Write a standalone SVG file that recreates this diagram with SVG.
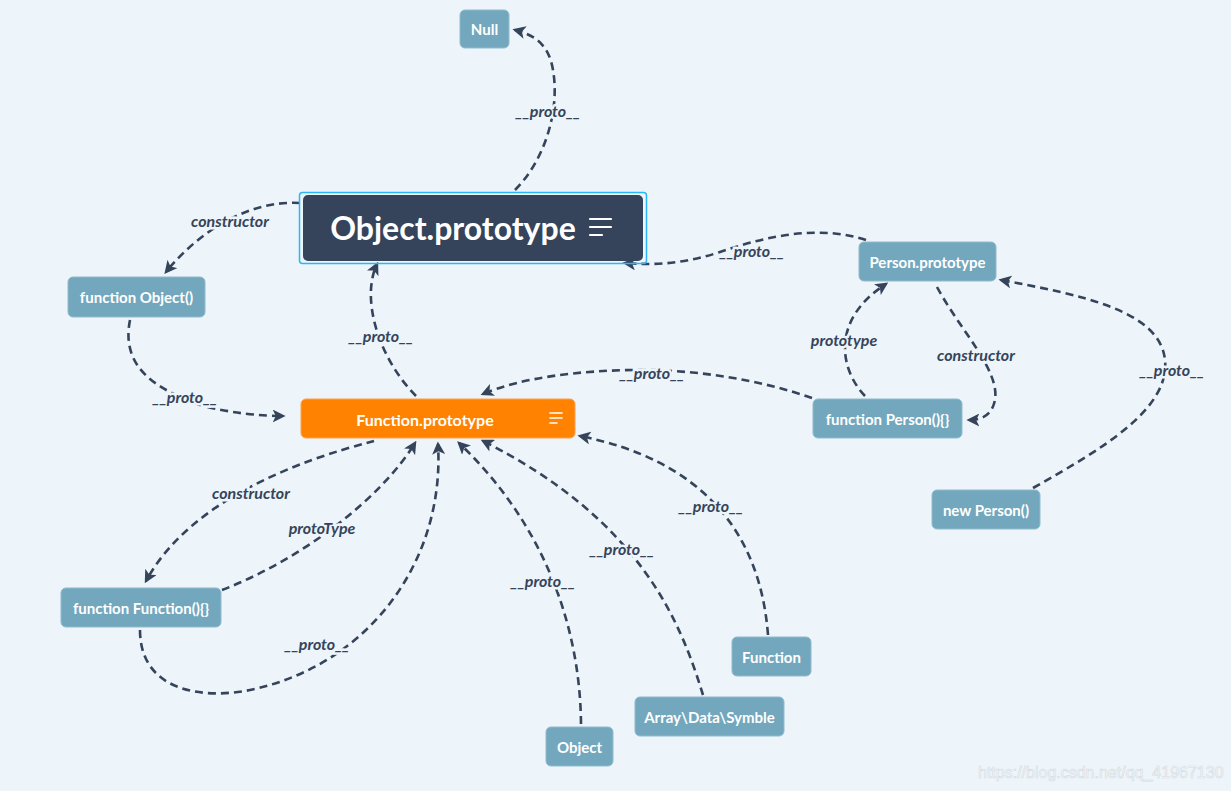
<svg xmlns="http://www.w3.org/2000/svg" width="1231" height="791" viewBox="0 0 1231 791">
<style>
.bg{fill:#edf4fa}
.node rect{fill:#73a7bd;stroke:#8fbbcd;stroke-width:1}
.node text{font-family:Lato,"Open Sans",sans-serif;font-weight:700;font-size:15px;fill:#ffffff;text-anchor:middle;dominant-baseline:central}
.edge{fill:none;stroke:#35445b;stroke-width:2.6;stroke-dasharray:8 5}
.lbl{font-family:Lato,"Open Sans",sans-serif;font-style:italic;font-weight:700;font-size:16px;fill:#35445b;text-anchor:middle;dominant-baseline:central;stroke:#edf4fa;stroke-width:5;paint-order:stroke}
.icon{stroke:#ffffff;stroke-linecap:round}
</style>
<defs>
<marker id="arr" viewBox="0 0 10 10" refX="8" refY="5" markerWidth="5" markerHeight="5" orient="auto" markerUnits="strokeWidth">
<path d="M0,0 L10,5 L0,10 L2.5,5 Z" fill="#35445b"/>
</marker>
</defs>
<rect class="bg" x="0" y="0" width="1231" height="791"/>

<g id="connectors">
<path class="edge" marker-end="url(#arr)" d="M515,190 C545,160 560,110 553,70 C549,45 535,35 515,30"/>
<path class="edge" marker-end="url(#arr)" d="M300,203 C250,200 200,230 166,272"/>
<path class="edge" marker-end="url(#arr)" d="M416,396 C380,360 360,300 377,264"/>
<path class="edge" marker-end="url(#arr)" d="M866,240 C820,225 770,235 720,252 C690,262 660,266 625,263"/>
<path class="edge" marker-end="url(#arr)" d="M130,320 C120,370 160,390 200,405 C230,413 260,416 283,416"/>
<path class="edge" marker-end="url(#arr)" d="M812,398 C760,380 700,370 640,370 C580,370 520,378 483,394"/>
<path class="edge" marker-end="url(#arr)" d="M865,396 C840,370 830,320 886,284"/>
<path class="edge" marker-end="url(#arr)" d="M937,287 C960,330 1000,370 995,400 C992,415 982,420 969,420"/>
<path class="edge" marker-end="url(#arr)" d="M1033,488 C1100,450 1170,410 1165,360 C1160,310 1080,295 1001,280"/>
<path class="edge" marker-end="url(#arr)" d="M374,441 C300,460 190,500 146,581"/>
<path class="edge" marker-end="url(#arr)" d="M222,590 C300,560 380,500 415,443"/>
<path class="edge" marker-end="url(#arr)" d="M140,630 C140,690 200,700 250,690 C370,665 445,560 438,444"/>
<path class="edge" marker-end="url(#arr)" d="M581,724 C580,620 540,520 459,443"/>
<path class="edge" marker-end="url(#arr)" d="M703,695 C680,620 640,520 483,441"/>
<path class="edge" marker-end="url(#arr)" d="M768,635 C760,530 700,460 580,436"/>
<text class="lbl" x="548" y="110">__proto__</text>
<text class="lbl" x="230" y="220">constructor</text>
<text class="lbl" x="381" y="335">__proto__</text>
<text class="lbl" x="752" y="250">__proto__</text>
<text class="lbl" x="185" y="396">__proto__</text>
<text class="lbl" x="652" y="372">__proto__</text>
<text class="lbl" x="844" y="339">prototype</text>
<text class="lbl" x="976" y="354">constructor</text>
<text class="lbl" x="1172" y="369">__proto__</text>
<text class="lbl" x="251" y="492">constructor</text>
<text class="lbl" x="322" y="527">protoType</text>
<text class="lbl" x="317" y="643">__proto__</text>
<text class="lbl" x="543" y="580">__proto__</text>
<text class="lbl" x="622" y="548">__proto__</text>
<text class="lbl" x="711" y="505">__proto__</text>
</g>

<g id="node-null" class="node"><rect x="460" y="10" width="49" height="38" rx="5"/><text x="484.5" y="29">Null</text></g>

<g id="node-object-prototype">
<rect x="299.5" y="192.5" width="347" height="71" rx="3" fill="none" stroke="#2bb6f5" stroke-width="1.5"/>
<rect x="303" y="195" width="340" height="66" rx="5" fill="#35445b"/>
<text x="453" y="227" font-family="Lato,'Open Sans',sans-serif" font-weight="700" font-size="32" fill="#ffffff" text-anchor="middle" dominant-baseline="central">Object.prototype</text>
<g class="icon" stroke-width="2.2"><line x1="590" y1="219" x2="611" y2="219"/><line x1="590" y1="227" x2="611" y2="227"/><line x1="590" y1="235" x2="602" y2="235"/></g>
</g>

<g id="node-function-object" class="node"><rect x="68" y="277" width="137" height="40" rx="5"/><text x="136.5" y="297">function Object()</text></g>

<g id="node-function-prototype">
<rect x="301" y="399" width="274" height="39" rx="5" fill="#ff8200" stroke="#ffa24d" stroke-width="1"/>
<text x="425" y="419" font-family="Lato,'Open Sans',sans-serif" font-weight="700" font-size="16" fill="#ffffff" text-anchor="middle" dominant-baseline="central">Function.prototype</text>
<g class="icon" stroke-width="1.6"><line x1="550" y1="413" x2="562" y2="413"/><line x1="550" y1="418" x2="562" y2="418"/><line x1="550" y1="423" x2="557" y2="423"/></g>
</g>

<g id="node-person-prototype" class="node"><rect x="859" y="242" width="137" height="39" rx="5"/><text x="927.5" y="262">Person.prototype</text></g>
<g id="node-function-person" class="node"><rect x="813" y="399" width="149" height="39" rx="5"/><text x="887.5" y="419">function Person(){}</text></g>
<g id="node-new-person" class="node"><rect x="932" y="490" width="108" height="39" rx="5"/><text x="986" y="510">new Person()</text></g>
<g id="node-function-function" class="node"><rect x="61" y="588" width="160" height="39" rx="5"/><text x="141" y="608">function Function(){}</text></g>
<g id="node-function" class="node"><rect x="732" y="637" width="79" height="39" rx="5"/><text x="771.5" y="657">Function</text></g>
<g id="node-array" class="node"><rect x="635" y="697" width="149" height="39" rx="5"/><text x="709.5" y="717">Array\Data\Symble</text></g>
<g id="node-object" class="node"><rect x="546" y="727" width="67" height="39" rx="5"/><text x="579.5" y="747">Object</text></g>

<text x="978" y="778" font-family="'Liberation Sans',Arial,sans-serif" font-size="16" fill="#f7f9fb" stroke="#d5dbe1" stroke-width="0.6">https://blog.csdn.net/qq_41967130</text>
</svg>
